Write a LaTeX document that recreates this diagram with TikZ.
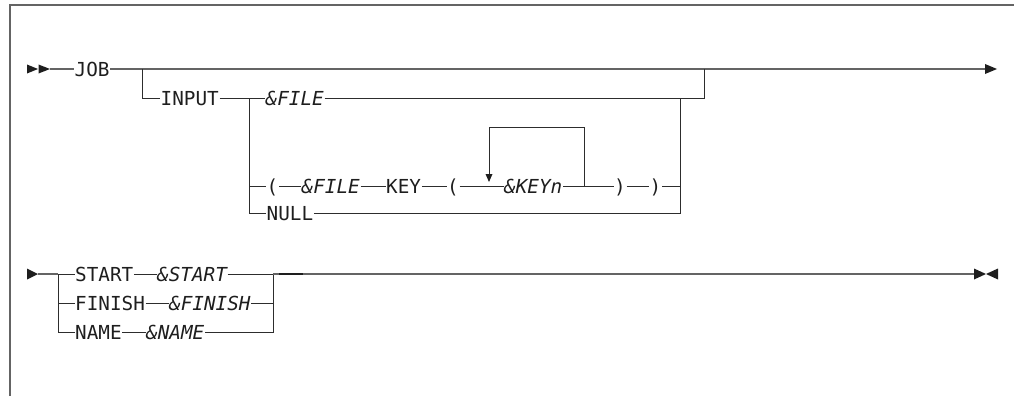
\documentclass[tikz,border=0pt]{standalone}
\usepackage{fontspec}
\setmonofont{DejaVu Sans Mono}[ItalicFont={DejaVu Sans Mono Oblique}]
\definecolor{mainc}{RGB}{100,100,100}
\definecolor{railc}{RGB}{45,45,45}
\definecolor{txt}{RGB}{30,30,30}
\begin{document}
\begin{tikzpicture}[x=1pt,y=-1pt,
  lbl/.style={inner xsep=0.5pt, inner ysep=0pt, text height=14pt, text depth=0pt, anchor=west,
    font=\ttfamily\fontsize{19.3}{23}\selectfont, text=txt},
  var/.style={lbl, font=\ttfamily\itshape\fontsize{19.3}{23}\selectfont},
  mainline/.style={draw=mainc, line width=1.3pt},
  rail/.style={draw=railc, line width=1pt},
  frameline/.style={draw=mainc, line width=1.5pt},
  tipfill/.style={fill=txt}]
\useasboundingbox (0,0) rectangle (1014,396);
% frame
\draw[frameline] (10,396) -- (10,5) -- (1014,5);
% ---------------- row 1 ----------------
\fill[tipfill] (27,64.5) -- (38,69) -- (27,73.5) -- cycle;
\fill[tipfill] (38.5,64.5) -- (50,69) -- (38.5,73.5) -- cycle;
\coordinate (a1) at (50,69);
\node[lbl] (job) at (74,69) {JOB};
\coordinate (e1) at (985,69);
\fill[tipfill] (985,64) -- (997,69) -- (985,74) -- cycle;
\draw[mainline] (a1) -- (job.west);
\draw[mainline] (job.east) -- (e1);
\coordinate (b1) at (142,69);
\coordinate (r1) at (704,69);
\coordinate (r1b) at (704,98);
\node[lbl] (input) at (160,98) {INPUT};
\node[var] (file1) at (265,98) {\&FILE};
\coordinate (j1) at (249,98);
\coordinate (j2) at (680,98);
\draw[rail] (b1) |- (input.west);
\draw[rail] (input.east) -- (file1.west);
\draw[rail] (file1.east) -- (r1b) -- (r1);
% row 3
\node[lbl] (lp1) at (266,186) {(};
\node[var] (file2) at (301,186) {\&FILE};
\node[lbl] (key) at (385.5,186) {KEY};
\node[lbl] (lp2) at (446.5,186) {(};
\node[var] (keyn) at (503.5,186) {\&KEYn};
\node[lbl] (rp1) at (613.5,186) {)};
\node[lbl] (rp2) at (649,186) {)};
\node[lbl] (null) at (266,213) {NULL};
\draw[rail] (j1) |- (null.west);
\draw[rail] (j1 |- lp1.west) -- (lp1.west);
\draw[rail] (lp1.east) -- (file2.west);
\draw[rail] (file2.east) -- (key.west);
\draw[rail] (key.east) -- (lp2.west);
\draw[rail] (lp2.east) -- (keyn.west);
\draw[rail] (keyn.east) -- (rp1.west);
\draw[rail] (rp1.east) -- (rp2.west);
\draw[rail] (rp2.east) -- (j2 |- rp2.east);
\draw[rail] (null.east) -- (j2 |- null.east) -- (j2);
% repeat loop
\coordinate (lr) at (584,186);
\coordinate (ll) at (489,127);
\coordinate (lt) at (489,174);
\draw[rail] (lr) |- (ll) -- (lt);
\fill[tipfill] (485.5,174) -- (492.5,174) -- (489,182) -- cycle;
% ---------------- row 2 ----------------
\fill[tipfill] (27,268.5) -- (38,274) -- (27,279.5) -- cycle;
\coordinate (a2) at (38,274);
\coordinate (s2) at (58,274);
\node[lbl] (start) at (74.5,274) {START};
\node[var] (vstart) at (156.5,274) {\&START};
\node[lbl] (finish) at (74.5,303) {FINISH};
\node[var] (vfinish) at (168.5,303) {\&FINISH};
\node[lbl] (name) at (74.5,332) {NAME};
\node[var] (vname) at (145.5,332) {\&NAME};
\coordinate (m2) at (273,274);
\coordinate (e2) at (974,274);
\draw[mainline] (a2) -- (s2);
\draw[rail] (s2) -- (start.west);
\draw[rail] (s2) |- (name.west);
\draw[rail] (s2 |- finish.west) -- (finish.west);
\draw[rail] (start.east) -- (vstart.west);
\draw[rail] (finish.east) -- (vfinish.west);
\draw[rail] (name.east) -- (vname.west);
\draw[rail] (vstart.east) -- (m2);
\draw[rail] (vfinish.east) -- (m2 |- vfinish.east);
\draw[rail] (vname.east) -- (m2 |- vname.east) -- (m2);
\draw[mainline] (m2) -- (e2);
\draw[draw=txt, line width=1.6pt] (279,274) -- (303,274);
\fill[tipfill] (974,268.5) -- (986,274) -- (974,279.5) -- cycle;
\fill[tipfill] (998,268.5) -- (986,274) -- (998,279.5) -- cycle;
\end{tikzpicture}
\end{document}
